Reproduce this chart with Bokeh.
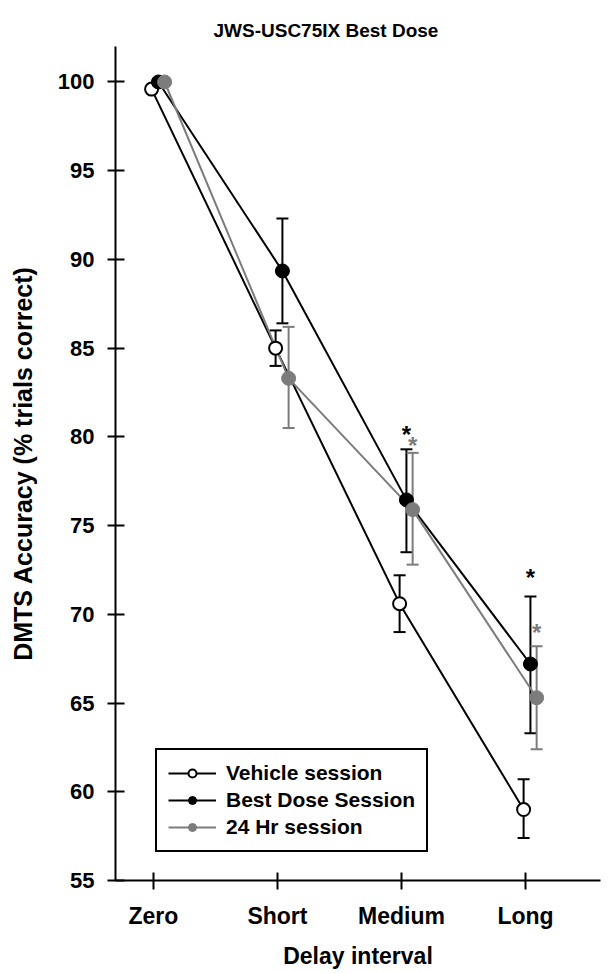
from bokeh.plotting import figure
from bokeh.models import (ColumnDataSource, FixedTicker, Whisker, TeeHead, Legend, LegendItem, Range1d)
from bokeh.core.properties import value
from bokeh.embed import file_html
from bokeh.resources import INLINE

categories = ["Zero", "Short", "Medium", "Long"]
xpos = [0, 1, 2, 3]

vehicle = [99.6, 85.0, 70.6, 59.0]
vehicle_hi = [99.6, 86.0, 72.2, 60.7]
vehicle_lo = [99.6, 84.0, 69.0, 57.4]

best = [100.0, 89.35, 76.45, 67.2]
best_hi = [100.0, 92.3, 79.3, 71.0]
best_lo = [100.0, 86.4, 73.5, 63.3]

hr24 = [100.0, 83.3, 75.9, 65.3]
hr24_hi = [100.0, 86.2, 79.1, 68.2]
hr24_lo = [100.0, 80.5, 72.8, 62.4]

offsets = {"vehicle": -0.015, "best": 0.04, "hr24": 0.09}

star_cats = [2, 3]
star_best_y = [80.15, 72.1]
star_hr24_y = [79.5, 69.0]

FONT = "Liberation Sans"
GRAY = "#7c7c7c"

p = figure(width=603, height=972, output_backend="svg", toolbar_location=None,
           x_range=Range1d(-0.306, 3.605), y_range=Range1d(55, 102.0),
           min_border_left=115, min_border_right=3, min_border_top=46, min_border_bottom=92)
p.frame_width = 485
p.frame_height = 834

p.title.text = "JWS-USC75IX Best Dose"
p.title.align = "left"
p.title.offset = 98
p.title.text_font = FONT
p.title.text_font_size = "19px"
p.title.text_font_style = "bold"
p.title.text_color = "black"
p.title.standoff = 12

p.grid.visible = False
p.outline_line_color = None
p.background_fill_color = "white"
p.border_fill_color = "white"

for ax in (p.xaxis[0], p.yaxis[0]):
    ax.axis_line_width = 2
    ax.major_tick_line_width = 2
    ax.minor_tick_line_color = None
    ax.major_label_text_font = FONT
    ax.major_label_text_font_style = "bold"
    ax.major_label_text_color = "black"
    ax.axis_line_color = "black"
    ax.major_tick_line_color = "black"
    ax.axis_label_text_font = FONT
    ax.axis_label_text_font_style = "bold"
    ax.axis_label_text_color = "black"

p.xaxis.ticker = FixedTicker(ticks=xpos)
p.xaxis.major_label_overrides = {x: c for x, c in zip(xpos, categories)}
p.xaxis.major_tick_in = 8
p.xaxis.major_tick_out = 9
p.xaxis.major_label_standoff = 13
p.xaxis.major_label_text_font_size = "23px"
p.xaxis.axis_label = "Delay interval"
p.xaxis.axis_label_text_font_size = "23px"
p.xaxis.axis_label_standoff = 11

p.yaxis.ticker = FixedTicker(ticks=list(range(55, 101, 5)))
p.yaxis.major_tick_in = 9
p.yaxis.major_tick_out = 8
p.yaxis.major_label_standoff = 13
p.yaxis.major_label_text_font_size = "22px"
p.yaxis.axis_label = "DMTS Accuracy (% trials correct)"
p.yaxis.axis_label_text_font_size = "25px"
p.yaxis.axis_label_standoff = 18

def series(vals, hi, lo, off):
    xs = [x + off for x in xpos]
    return ColumnDataSource(dict(x=xs, y=vals, hi=hi, lo=lo))

src_v = series(vehicle, vehicle_hi, vehicle_lo, offsets["vehicle"])
src_b = series(best, best_hi, best_lo, offsets["best"])
src_g = series(hr24, hr24_hi, hr24_lo, offsets["hr24"])

l_v = p.line("x", "y", source=src_v, line_color="black", line_width=2)
l_b = p.line("x", "y", source=src_b, line_color="black", line_width=2)
l_g = p.line("x", "y", source=src_g, line_color=GRAY, line_width=2)

for src, col in ((src_v, "black"), (src_b, "black"), (src_g, GRAY)):
    w = Whisker(source=src, base="x", upper="hi", lower="lo", line_color=col, line_width=2,
                upper_head=TeeHead(size=12, line_color=col, line_width=2),
                lower_head=TeeHead(size=12, line_color=col, line_width=2))
    p.add_layout(w)

m_v = p.scatter("x", "y", source=src_v, size=13, fill_color="white", line_color="black", line_width=2)
m_b = p.scatter("x", "y", source=src_b, size=14, fill_color="black", line_color="black", line_width=1)
m_g = p.scatter("x", "y", source=src_g, size=14, fill_color=GRAY, line_color=GRAY, line_width=1)

p.text(x=[c + offsets["best"] for c in star_cats], y=star_best_y, text=["*"] * 2,
       text_font=value(FONT), text_font_style="bold", text_font_size="24px",
       text_align="center", text_baseline="middle", text_color="black")
p.text(x=[c + offsets["hr24"] for c in star_cats], y=star_hr24_y, text=["*"] * 2,
       text_font=value(FONT), text_font_style="bold", text_font_size="24px",
       text_align="center", text_baseline="middle", text_color=GRAY)

legend = Legend(items=[
    LegendItem(label="Vehicle session", renderers=[l_v, m_v]),
    LegendItem(label="Best Dose Session", renderers=[l_b, m_b]),
    LegendItem(label="24 Hr session", renderers=[l_g, m_g]),
], location=(40, 28))
legend.border_line_color = "black"
legend.border_line_alpha = 1
legend.border_line_width = 2
legend.label_text_font = FONT
legend.label_text_font_style = "bold"
legend.label_text_font_size = "21px"
legend.label_text_color = "black"
legend.glyph_width = 48
legend.glyph_height = 20
legend.label_height = 20
legend.spacing = 3
legend.padding = 11
legend.margin = 0
legend.label_standoff = 10
legend.background_fill_alpha = 1
p.add_layout(legend)

open("out.html", "w").write(file_html(p, INLINE))
